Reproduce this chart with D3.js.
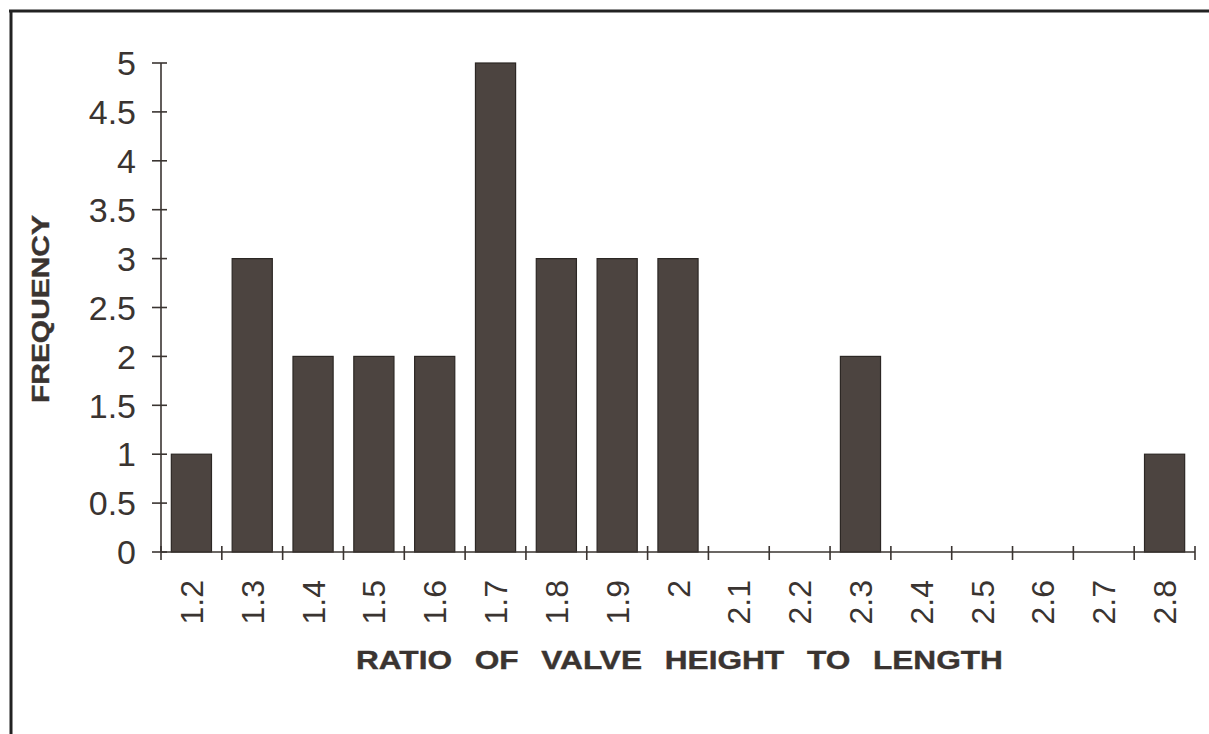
<!DOCTYPE html>
<html><head><meta charset="utf-8">
<script src="https://cdn.jsdelivr.net/npm/d3@7"></script>
<style>body{margin:0;background:#fff}svg{display:block}</style>
</head><body>
<svg id="c" width="1209" height="734"></svg>
<script>
const categories = ["1.2","1.3","1.4","1.5","1.6","1.7","1.8","1.9","2","2.1","2.2","2.3","2.4","2.5","2.6","2.7","2.8"];
const frequency = [1,3,2,2,2,5,3,3,3,0,0,2,0,0,0,0,1];
const yTicks = [0,0.5,1,1.5,2,2.5,3,3.5,4,4.5,5];
const yTickLabels = ["0","0.5","1","1.5","2","2.5","3","3.5","4","4.5","5"];
const xTitle = "RATIO OF VALVE HEIGHT TO LENGTH";
const yTitle = "FREQUENCY";

const svg = d3.select("#c");
const ink = "#3a3431";
const font = "'Liberation Sans', Arial, Helvetica, sans-serif";

// frame
svg.append("line").attr("x1",9).attr("x2",1209).attr("y1",11).attr("y2",11).attr("stroke","#222").attr("stroke-width",3);
svg.append("line").attr("x1",11).attr("x2",11).attr("y1",10).attr("y2",734).attr("stroke","#222").attr("stroke-width",3);

const x = d3.scaleBand().domain(categories).range([161,1195]).paddingInner(0.34).paddingOuter(0.17);
const y = d3.scaleLinear().domain([0,5]).range([552,63]);

// bars
svg.selectAll("rect.bar").data(frequency).join("rect")
  .attr("class","bar")
  .attr("x",(d,i)=>x(categories[i]))
  .attr("width",x.bandwidth())
  .attr("y",d=>y(d))
  .attr("height",d=>y(0)-y(d))
  .attr("fill","#4c4440").attr("stroke","#2c2724").attr("stroke-width",1.2);

// y axis
svg.append("line").attr("x1",161).attr("x2",161).attr("y1",y(5)).attr("y2",y(0)).attr("stroke",ink).attr("stroke-width",1.6);
svg.selectAll("line.yt").data(yTicks).join("line").attr("class","yt")
  .attr("x1",152).attr("x2",167).attr("y1",d=>y(d)).attr("y2",d=>y(d)).attr("stroke",ink).attr("stroke-width",1.6);
svg.selectAll("text.yl").data(yTicks).join("text").attr("class","yl")
  .attr("x",136).attr("y",d=>y(d)).attr("dy","0.36em").attr("text-anchor","end")
  .attr("font-family",font).attr("font-size",34).attr("fill",ink)
  .text((d,i)=>yTickLabels[i]);

// x axis
const x0 = x.range()[0], step = x.step();
svg.append("line").attr("x1",161).attr("x2",x0+step*categories.length).attr("y1",y(0)).attr("y2",y(0)).attr("stroke",ink).attr("stroke-width",1.6);
svg.selectAll("line.xt").data(d3.range(categories.length+1)).join("line").attr("class","xt")
  .attr("x1",i=>x0+i*step).attr("x2",i=>x0+i*step).attr("y1",y(0)-6).attr("y2",y(0)+8)
  .attr("stroke",ink).attr("stroke-width",1.6);
svg.selectAll("text.xl").data(categories).join("text").attr("class","xl")
  .attr("transform",d=>`translate(${x(d)+x.bandwidth()/2},580) rotate(-90)`)
  .attr("dy","0.36em").attr("text-anchor","end")
  .attr("font-family",font).attr("font-size",32).attr("fill",ink)
  .text(d=>d);

// titles (stretched horizontally to match the reference's wide lettering)
const xt = svg.append("text")
  .attr("font-family",font).attr("font-size",25).attr("font-weight","bold").attr("fill",ink)
  .attr("stroke",ink).attr("stroke-width",0.4)
  .attr("word-spacing","11")
  .text(xTitle);
const xw = xt.node().getComputedTextLength();
xt.attr("transform",`translate(356,669) scale(${647/xw},1)`);

const yt = svg.append("text")
  .attr("font-family",font).attr("font-size",23).attr("font-weight","bold").attr("fill",ink)
  .attr("stroke",ink).attr("stroke-width",0.4)
  .text(yTitle);
const yw = yt.node().getComputedTextLength();
yt.attr("transform",`translate(49,403) rotate(-90) scale(${188/yw},1)`);
</script>
</body></html>
